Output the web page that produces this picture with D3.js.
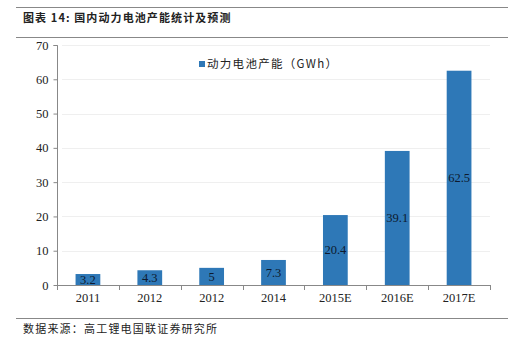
<!DOCTYPE html>
<html><head><meta charset="utf-8">
<script src="https://cdn.jsdelivr.net/npm/d3@7"></script>
<style>body{margin:0;background:#fff}</style>
</head><body>
<svg id="c" width="519" height="347"></svg>
<script>
const categories = ["2011","2012","2012","2014","2015E","2016E","2017E"];
const values = [3.2,4.3,5,7.3,20.4,39.1,62.5];
const yTicks = [0,10,20,30,40,50,60,70];
const seriesName = "动力电池产能（GWh）";
const title = "图表 14: 国内动力电池产能统计及预测";
const source = "数据来源：高工锂电国联证券研究所";

const svg = d3.select("#c");
const serif = "'Liberation Serif','Times New Roman',serif";
const cjk = "'Noto Sans CJK SC','Noto Sans',sans-serif";
const barColor = "#2e78b7";

// header / footer rules
svg.append("line").attr("x1",16).attr("x2",508).attr("y1",7.5).attr("y2",7.5).attr("stroke","#888").attr("stroke-width",1.2);
svg.append("line").attr("x1",16).attr("x2",508).attr("y1",37.5).attr("y2",37.5).attr("stroke","#888").attr("stroke-width",1.2);
svg.append("line").attr("x1",16).attr("x2",508).attr("y1",318.5).attr("y2",318.5).attr("stroke","#888").attr("stroke-width",1.2);
svg.append("text").attr("x",23).attr("y",22).attr("font-family",cjk).attr("font-weight","bold").attr("font-size",11).attr("letter-spacing",1.1).attr("fill","#222").text(title);
svg.append("text").attr("x",23).attr("y",333).attr("font-family",cjk).attr("font-size",11).attr("letter-spacing",1.2).attr("fill","#222").text(source);

const x = d3.scaleBand().domain(d3.range(categories.length)).range([57,490]).paddingInner(0.6).paddingOuter(0.3);
const xOuter = d3.scaleBand().domain(d3.range(categories.length)).range([57,490]);
const y = d3.scaleLinear().domain([0,70]).range([285,45]);

// grid
svg.append("g").selectAll("line").data(yTicks.filter(t=>t>0)).join("line")
  .attr("x1",62).attr("x2",490).attr("y1",d=>Math.round(y(d))+0.5).attr("y2",d=>Math.round(y(d))+0.5)
  .attr("stroke","#efefef").attr("stroke-width",1);

// bars
svg.append("g").selectAll("rect").data(values).join("rect")
  .attr("x",(d,i)=>x(i)).attr("width",x.bandwidth())
  .attr("y",d=>y(d)).attr("height",d=>y(0)-y(d)).attr("fill",barColor);

// labels
svg.append("g").selectAll("text").data(values).join("text")
  .attr("x",(d,i)=>x(i)+x.bandwidth()/2).attr("y",d=>(y(d)+y(0))/2)
  .attr("dy","0.35em").attr("text-anchor","middle")
  .attr("font-family",serif).attr("font-size",12.5).attr("fill","#0d1a2e").text(d=>d);

// y axis
const ya = svg.append("g").attr("transform","translate(57.5,0)")
  .call(d3.axisLeft(y).tickValues(yTicks).tickSize(4).tickPadding(5));
ya.select(".domain").attr("stroke","#888").attr("d","M-4,45.5H0V285.5");
ya.selectAll(".tick line").attr("stroke","#888");
ya.selectAll("text").attr("font-family",serif).attr("font-size",12.5).attr("fill","#222");

// x axis
const xa = svg.append("g").attr("transform","translate(0,285.5)")
  .call(d3.axisBottom(xOuter).tickFormat(i=>categories[i]).tickSize(0).tickPadding(8));
xa.select(".domain").attr("stroke","#888").attr("d","M57,0H490");
xa.selectAll("text").attr("font-family",serif).attr("font-size",12.5).attr("fill","#222");
svg.append("g").selectAll("line").data(d3.range(categories.length+1)).join("line")
  .attr("x1",i=>Math.round(57+i*xOuter.step())+0.5).attr("x2",i=>Math.round(57+i*xOuter.step())+0.5)
  .attr("y1",285).attr("y2",290).attr("stroke","#888");

// legend
svg.append("rect").attr("x",199).attr("y",61).attr("width",6).attr("height",6).attr("fill",barColor);
svg.append("text").attr("x",207).attr("y",68).attr("font-family",cjk).attr("font-size",11.5).attr("letter-spacing",1.3).attr("fill","#222").text(seriesName);
</script>
</body></html>
